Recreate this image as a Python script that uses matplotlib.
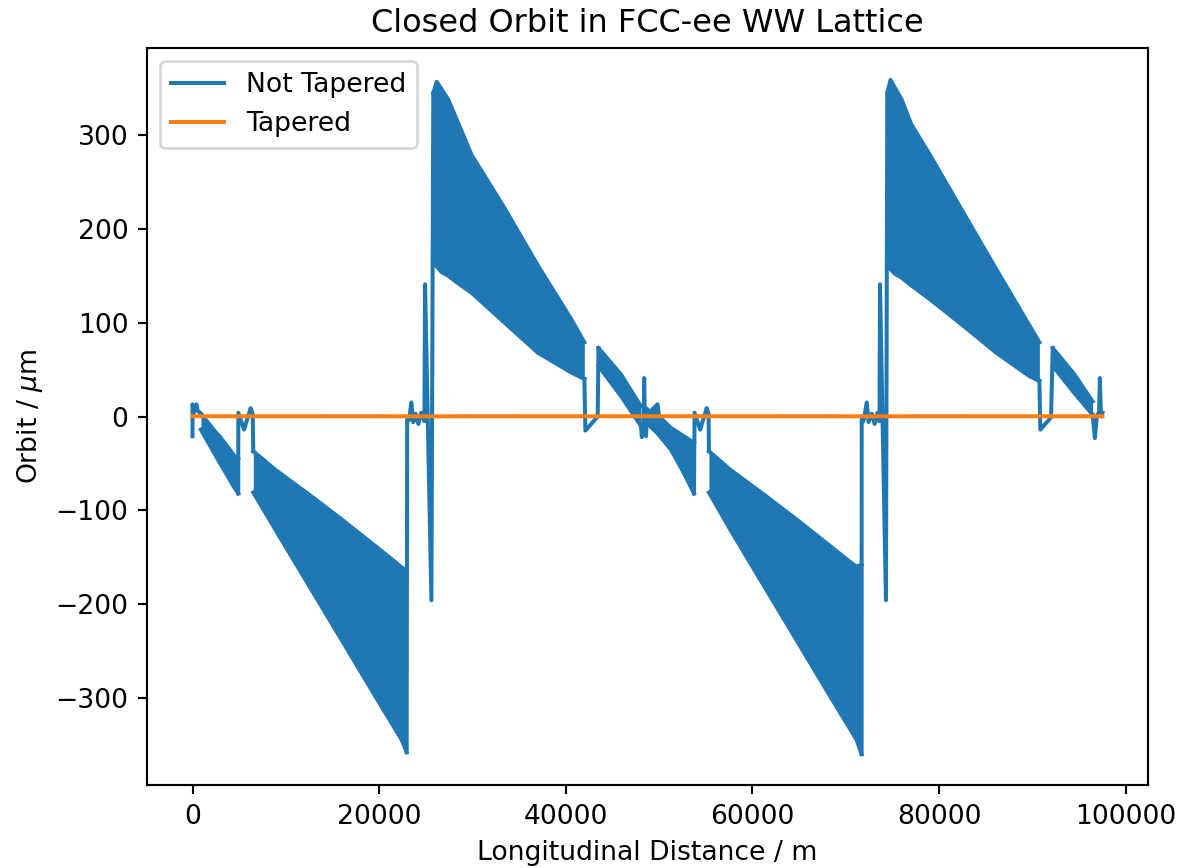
import numpy as np
import matplotlib
matplotlib.use("Agg")
import matplotlib.pyplot as plt

# ---------------------------------------------------------------------------
# Data
# ---------------------------------------------------------------------------
nan = np.nan

# untapered orbit between the dense arcs (nan = an arc in between) [m, um]
orbit_s = [0, 0, 150, 420, 560, 900,
           nan, 4900, 4910, 5520, 6230, 6450, 6510,
           nan, 22950, 23000, 23200, 23450, 23650, 23900, 24200, 24500, 24850, 24920, 25600, 25800,
           nan, 41990, 42100, 43420, 43500,
           nan, 48050, 48150, 48350, 48400, 48480, 48600, 48700,
           nan, 53740, 53800, 54400, 55100, 55300, 55340,
           nan, 71700, 71710, 71900, 72250, 72450, 72800, 73100, 73400, 73620, 73670, 74310, 74450,
           nan, 90750, 90850, 92000, 92180,
           nan, 96450, 96700, 96900, 97150, 97230, 97350, 97510]
orbit_y = [-21, 13, 4, 13, 6, 3,
           nan, -82, 4, -14, 9, 3, -37,
           nan, -358, -3, -4, 15, -6, 3, -8, 4, -5, 141, -196, 345,
           nan, 40, -15, 0, 73,
           nan, -10, -22, 0, 41, -10, -21, 5,
           nan, -82, 4, -14, 9, 3, -37,
           nan, -360, -3, -5, 15, -6, 3, -8, 4, -5, 141, -196, 345,
           nan, 38, -14, -1, 73,
           nan, 2, -23, 0, 5, 41, 0, 4]

# dense betatron-oscillation arcs: position and upper / lower envelope [m, um]
arc_s = [
    [900, 2500, 2900, 4500, 4900],
    [6510, 8900, 12460, 16020, 19570, 21700, 22420, 22950],
    [25800, 26160, 26690, 27400, 28470, 29900, 33450, 37010, 40570, 41990],
    [43500, 45900, 48050],
    [48700, 49000, 49830, 50000, 51250, 52640, 53740],
    [55340, 57650, 61200, 64760, 68310, 70450, 71170, 71700],
    [74450, 74800, 75300, 75990, 77000, 79020, 82570, 86130, 89690, 90750],
    [92180, 94500, 96450],
]
arc_hi = [
    [3, -17, -21, -42, -45],
    [-37, -57, -83, -110, -138, -155, -161, -164],
    [345, 357, 349, 338, 313, 279, 222, 161, 104, 79],
    [73, 45, 11],
    [8, 5, 13, 0, -12, -21, -28],
    [-37, -57, -83, -110, -138, -155, -160, -158],
    [345, 359, 350, 338, 312, 279, 218, 157, 97, 79],
    [73, 45, 16],
]
arc_lo = [
    [-14, -42, -49, -76, -82],
    [-81, -121, -180, -239, -298, -333, -345, -358],
    [165, 160, 154, 150, 142, 132, 100, 68, 47, 40],
    [54, 22, -10],
    [-5, -10, -18, -20, -35, -60, -82],
    [-81, -121, -180, -239, -298, -333, -345, -360],
    [161, 157, 152, 148, 140, 125, 97, 68, 43, 38],
    [54, 25, 2],
]

# tapered orbit stays on axis
tapered_s = [0, 24400, 48800, 73100, 97510]
tapered_y = [0.3, 0.2, 0.3, 0.2, 0.3]

# ---------------------------------------------------------------------------
# Plot
# ---------------------------------------------------------------------------
dpi = 192
fig = plt.figure(figsize=(1178 / dpi, 868 / dpi), dpi=dpi)
ax = fig.add_axes([0.1248, 0.0956, 0.8497, 0.8491])

blue = "C0"
ax.plot(orbit_s, orbit_y, color=blue, lw=1.5, label="Not Tapered")
for s, hi, lo in zip(arc_s, arc_hi, arc_lo):
    ax.fill_between(s, lo, hi, color=blue, lw=0)
    ax.plot(s, hi, color=blue, lw=1.5)
    ax.plot(s, lo, color=blue, lw=1.5)

ax.plot(tapered_s, tapered_y, color="C1", lw=1.5, label="Tapered")

ax.set_xlim(-4876, 102386)
ax.set_ylim(-393, 393)
ax.set_xticks([0, 20000, 40000, 60000, 80000, 100000])
ax.set_yticks([-300, -200, -100, 0, 100, 200, 300])
ax.set_title("Closed Orbit in FCC-ee WW Lattice")
ax.set_xlabel("Longitudinal Distance / m")
ax.set_ylabel(r"Orbit / $\mu$m")
ax.legend(loc="upper left")

fig.savefig("out.png", dpi=dpi)
